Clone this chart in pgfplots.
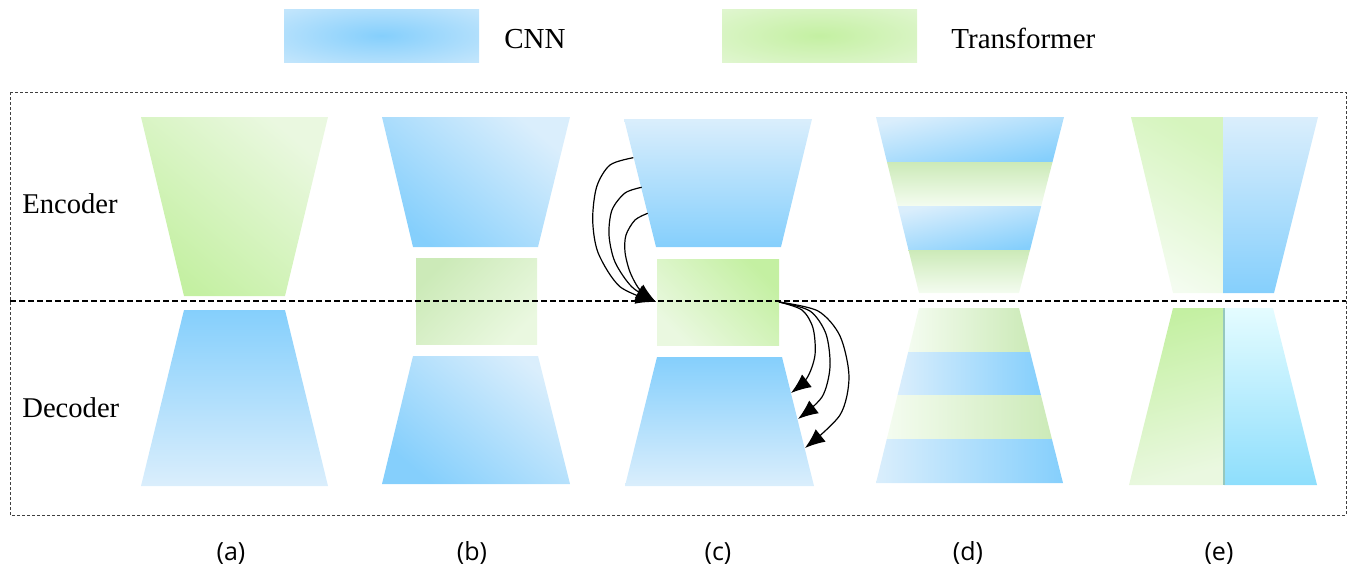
\documentclass[border=0pt]{standalone}
\usepackage{fontspec}
\setmainfont{Liberation Serif}
\newfontfamily\labfont{Open Sans}
\usepackage{pgfplots}
\pgfplotsset{compat=1.18}
\usetikzlibrary{arrows.meta}
\definecolor{blueS}{RGB}{133,207,252}
\definecolor{blueL}{RGB}{218,238,252}
\definecolor{greenS}{RGB}{196,240,162}
\definecolor{greenL}{RGB}{234,248,224}
\definecolor{greenVL}{RGB}{244,252,240}
\definecolor{greenM}{RGB}{204,234,184}
\definecolor{cyanL}{RGB}{228,252,255}
\definecolor{cyanS}{RGB}{142,222,252}
\pgfdeclareradialshading{legblue}{\pgfpoint{0bp}{0bp}}{color(0bp)=(blueS); color(48bp)=(blueL); color(75bp)=(blueL)}
\pgfdeclareradialshading{leggreen}{\pgfpoint{0bp}{0bp}}{color(0bp)=(greenS); color(48bp)=(greenL); color(75bp)=(greenL)}
\begin{document}
\begin{tikzpicture}
\begin{axis}[width=678pt, height=284pt, scale only axis,
  xmin=0, xmax=1356, ymin=0, ymax=568, y dir=reverse,
  hide axis, clip=false]
% invisible bounding frame
\addplot[draw=none] coordinates {(0,0)(1356,0)(1356,568)(0,568)} -- cycle;
% legend
\addplot[draw=none, shading=legblue] coordinates {(284,9)(479,9)(479,62)(284,62)} -- cycle;
\addplot[draw=none, shading=leggreen] coordinates {(722,9)(917,9)(917,62)(722,62)} -- cycle;
\node[inner sep=0pt, anchor=base west, font=\fontsize{14.5pt}{17pt}\selectfont] at (axis cs:504,48) {CNN};
\node[inner sep=0pt, anchor=base west, font=\fontsize{14.5pt}{17pt}\selectfont] at (axis cs:951,48) {Transformer};
% frame
\addplot[draw=black!75, line width=0.5pt, dash pattern=on 1.5pt off 1pt] coordinates {(10,92)(1346,92)(1346,515)(10,515)} -- cycle;
% (a)
\addplot[draw=none, top color=greenL, bottom color=greenS, shading angle=-40] coordinates {(141,117)(328,117)(285,296)(184,296)} -- cycle;
\addplot[draw=none, top color=blueS, bottom color=blueL] coordinates {(184,310)(285,310)(328,486)(141,486)} -- cycle;
% (b)
\addplot[draw=none, top color=blueL, bottom color=blueS, shading angle=-40] coordinates {(382,117)(570,117)(538,247)(413,247)} -- cycle;
\addplot[draw=none, top color=greenM, bottom color=greenL, shading angle=45] coordinates {(416,258)(537,258)(537,344)(416,344)} -- cycle;
\addplot[draw=none, top color=blueL, bottom color=blueS, shading angle=-40] coordinates {(413,356)(538,356)(570,484)(382,484)} -- cycle;
% (c)
\addplot[draw=none, top color=blueL, bottom color=blueS] coordinates {(624,119)(812,119)(781,247)(656,247)} -- cycle;
\addplot[draw=none, top color=greenS, bottom color=greenL, shading angle=-45] coordinates {(657,259)(779,259)(779,345)(657,345)} -- cycle;
\addplot[draw=none, top color=blueS, bottom color=blueL] coordinates {(657,357)(782,357)(814,486)(625,486)} -- cycle;
% (d) encoder bands
\addplot[draw=none, top color=blueL, bottom color=blueS, shading angle=12] coordinates {(876,117)(1064,117)(1052.5,162)(887,162)} -- cycle;
\addplot[draw=none, top color=greenM, bottom color=greenVL] coordinates {(887,162)(1052.5,162)(1041.2,206)(897.7,206)} -- cycle;
\addplot[draw=none, top color=blueL, bottom color=blueS, shading angle=12] coordinates {(897.7,206)(1041.2,206)(1030,250)(908.5,250)} -- cycle;
\addplot[draw=none, top color=greenM, bottom color=greenVL] coordinates {(908.5,250)(1030,250)(1019,293)(919,293)} -- cycle;
% (d) decoder bands
\addplot[draw=none, left color=greenVL, right color=greenM] coordinates {(919,308)(1019,308)(1030.1,352)(908.2,352)} -- cycle;
\addplot[draw=none, left color=blueL, right color=blueS] coordinates {(908.2,352)(1030.1,352)(1040.9,395)(897.6,395)} -- cycle;
\addplot[draw=none, left color=greenVL, right color=greenM] coordinates {(897.6,395)(1040.9,395)(1051.9,439)(886.8,439)} -- cycle;
\addplot[draw=none, left color=blueL, right color=blueS] coordinates {(886.8,439)(1051.9,439)(1063,483)(876,483)} -- cycle;
% (e)
\addplot[draw=none, top color=greenS!70!white, bottom color=greenVL, shading angle=-30] coordinates {(1131,117)(1223,117)(1223,293)(1173,293)} -- cycle;
\addplot[draw=none, top color=blueL, bottom color=blueS] coordinates {(1223,117)(1318,117)(1274,293)(1223,293)} -- cycle;
\addplot[draw=none, top color=greenS, bottom color=greenL, shading angle=15] coordinates {(1173,308)(1223,308)(1223,485)(1129,485)} -- cycle;
\addplot[draw=none, top color=cyanL, bottom color=cyanS] coordinates {(1224,308)(1273,308)(1317,485)(1224,485)} -- cycle;
\addplot[draw={rgb,255:red,150;green,200;blue,190}, line width=0.6pt] coordinates {(1224,308)(1224,485)};
% middle dashed line
\addplot[black, line width=0.8pt, dash pattern=on 3pt off 1.5pt] coordinates {(10,301)(1346,301)};
% arrows
\addplot[black, line width=0.6pt, smooth, -{Latex[length=10pt,width=8pt]}] coordinates {(633.3,157.7)(610,165)(596.7,186.7)(592.7,220)(598.3,253.3)(620,286.7)(656,302)};
\addplot[black, line width=0.6pt, smooth, -{Latex[length=10pt,width=8pt]}] coordinates {(641.7,187.3)(625,193)(612,210)(609,235)(615,262)(632,287)(656,302)};
\addplot[black, line width=0.6pt, smooth, -{Latex[length=10pt,width=8pt]}] coordinates {(647.7,213.3)(635,220)(626,235)(625,252)(630,272)(640,290)(656,302)};
\addplot[black, line width=0.6pt, smooth, -{Latex[length=10pt,width=8pt]}] coordinates {(779,302)(802,310)(813,328)(815,355)(807,378)(791,393)};
\addplot[black, line width=0.6pt, smooth, -{Latex[length=10pt,width=8pt]}] coordinates {(779,302)(810,311)(826,334)(830,367)(822,397)(798,419)};
\addplot[black, line width=0.6pt, smooth, -{Latex[length=10pt,width=8pt]}] coordinates {(779,302)(818,311)(840,336)(849,377)(840,415)(805,448)};
% side labels
\node[inner sep=0pt, anchor=base west, font=\fontsize{14.3pt}{17pt}\selectfont] at (axis cs:22,213) {Encoder};
\node[inner sep=0pt, anchor=base west, font=\fontsize{14.3pt}{17pt}\selectfont] at (axis cs:22,417) {Decoder};
% sub labels
\node[inner sep=0pt, anchor=base, font=\labfont\fontsize{12.5pt}{15pt}\selectfont] at (axis cs:231,560) {(a)};
\node[inner sep=0pt, anchor=base, font=\labfont\fontsize{12.5pt}{15pt}\selectfont] at (axis cs:472,560) {(b)};
\node[inner sep=0pt, anchor=base, font=\labfont\fontsize{12.5pt}{15pt}\selectfont] at (axis cs:718,560) {(c)};
\node[inner sep=0pt, anchor=base, font=\labfont\fontsize{12.5pt}{15pt}\selectfont] at (axis cs:968,560) {(d)};
\node[inner sep=0pt, anchor=base, font=\labfont\fontsize{12.5pt}{15pt}\selectfont] at (axis cs:1219,560) {(e)};
\end{axis}
\end{tikzpicture}
\end{document}
